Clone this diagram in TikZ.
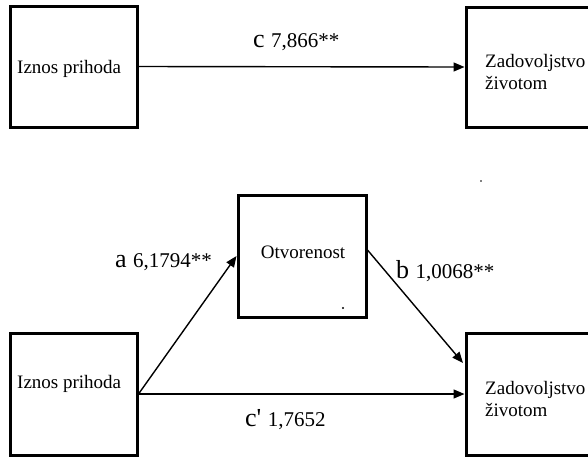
\documentclass[tikz,border=0pt]{standalone}
\usepackage{fontspec}
\setmainfont{Liberation Serif}
\usetikzlibrary{arrows.meta,calc}
\newcommand{\biglet}[1]{{\fontsize{26}{26}\selectfont #1}}
\newcommand{\numtxt}[1]{{\fontsize{21}{21}\selectfont #1}}
\begin{document}
\begin{tikzpicture}[x=1pt,y=-1pt,
  box/.style={draw=black,line width=3pt,rectangle,inner sep=0pt},
  txt/.style={inner sep=0pt,anchor=base west,font=\fontsize{19}{22}\selectfont},
  lbl/.style={inner sep=0pt,anchor=base west},
  arr/.style={line width=1.4pt,-{Triangle[length=11pt,width=9pt]}},
]
\useasboundingbox (0,0) rectangle (588,456);
% boxes
\node[box,minimum width=127pt,minimum height=121pt] (L1) at (73.5,66.5) {};
\node[box,minimum width=150pt,minimum height=120pt] (R1) at (541,67) {};
\node[box,minimum width=128pt,minimum height=122pt] (O) at (302,256) {};
\node[box,minimum width=127pt,minimum height=122pt] (L2) at (73.5,394) {};
\node[box,minimum width=150pt,minimum height=122pt] (R2) at (541,394) {};
% box texts
\node[txt] (tL1) at (17,73) {Iznos prihoda};
\node[txt] (tR1a) at (485,67) {Zadovoljstvo};
\node[txt] (tR1b) at (485,89) {životom};
\node[txt,anchor=base] (tO) at (303,258) {Otvorenost};
\node[txt] (tL2) at (17,388) {Iznos prihoda};
\node[txt] (tR2a) at (485,394) {Zadovoljstvo};
\node[txt] (tR2b) at (485,416) {životom};
% dots
\fill (343,308) circle (1.1pt);
\fill (481,181) circle (0.9pt);
% connectors
\coordinate (bend) at (463,363);
\draw[arr] (L1.east) -- (R1.west);
\draw[arr] (L2.east) -- (O.west);
\draw[arr] ($(O.east)+(0,-6)$) -- (bend);
\draw[arr] (L2.east) -- (R2.west);
% labels
\node[lbl] (lc) at (253,47) {\biglet{c\ }\numtxt{7,866**}};
\node[lbl] (la) at (115,267) {\biglet{a\ }\numtxt{6,1794**}};
\node[lbl] (lb) at (396,278) {\biglet{b\ }\numtxt{1,0068**}};
\node[lbl] (lcp) at (245,426) {\biglet{c\textquotesingle\ }\numtxt{1,7652}};
\end{tikzpicture}
\end{document}
